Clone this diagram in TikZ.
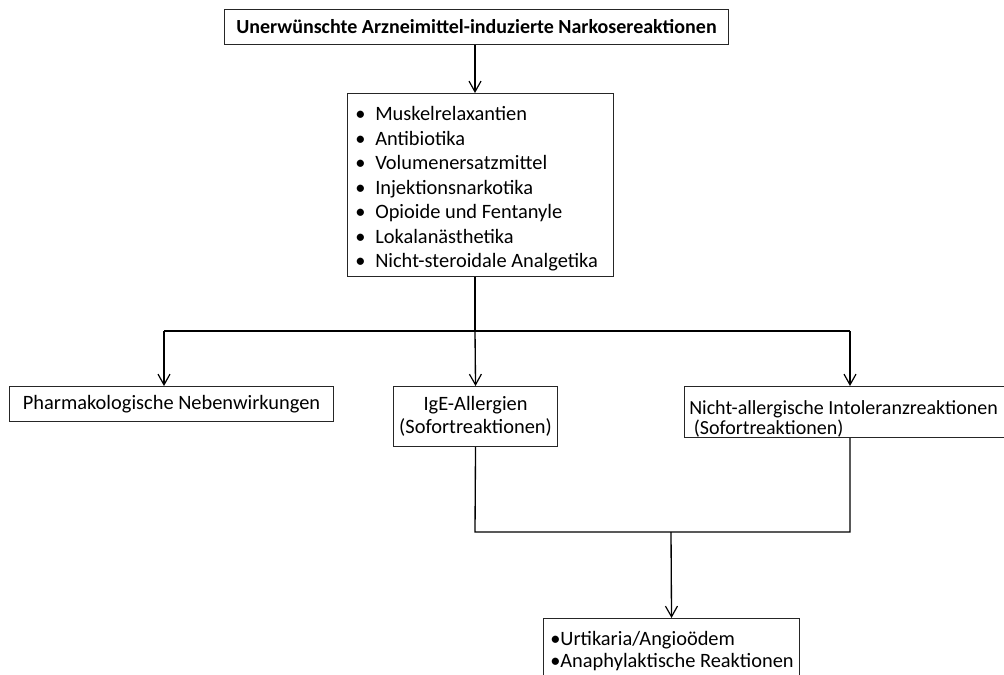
\documentclass[tikz,border=0pt]{standalone}
\usepackage{fontspec}
\setmainfont{Carlito}
\usetikzlibrary{arrows.meta}
\newcommand\bitem[1]{\makebox[15pt][l]{\textbullet}#1}
\begin{document}
\begin{tikzpicture}[x=0.75pt,y=-0.75pt,
  box/.style={draw=black!85,line width=0.8pt,inner ysep=0pt,anchor=north west,font=\fontsize{15.3}{18}\selectfont},
  txt/.style={inner sep=0pt,anchor=west,align=left,font=\fontsize{15.3}{18}\selectfont},
  conn/.style={line width=1pt},
  arr/.style={conn,-{Straight Barb[length=8pt,width=9pt,line width=0.9pt]}}]
\useasboundingbox (0,0) rectangle (1004,675);
\clip (0,0) rectangle (1004,675);
\fill[white] (0,0) rectangle (1004,675);
\node[box,minimum width=504*0.75pt,minimum height=35*0.75pt,inner xsep=0pt,font=\bfseries\fontsize{15}{18}\selectfont] (top) at (224,9) {Unerwünschte Arzneimittel-induzierte Narkosereaktionen};
\node[box,minimum width=266*0.75pt,minimum height=183*0.75pt] (box2) at (347,93) {};
\node[txt,font=\fontsize{15.3}{18.4}\selectfont] (box2text) at (355,189) {\bitem{Muskelrelaxantien}\\\bitem{Antibiotika}\\\bitem{Volumenersatzmittel}\\\bitem{Injektionsnarkotika}\\\bitem{Opioide und Fentanyle}\\\bitem{Lokalanästhetika}\\\bitem{Nicht-steroidale Analgetika}};
\node[box,minimum width=324*0.75pt,minimum height=35*0.75pt,inner xsep=0pt] (left) at (9,386) {Pharmakologische Nebenwirkungen};
\node[box,minimum width=164*0.75pt,minimum height=60*0.75pt,inner xsep=0pt,align=center,font=\fontsize{15.3}{17.25}\selectfont] (mid) at (393,386) {IgE-Allergien\\(Sofortreaktionen)};
\node[box,minimum width=336*0.75pt,minimum height=51*0.75pt] (right) at (684,386) {};
\node[txt,font=\fontsize{15}{15}\selectfont] (righttext) at (689,418.5) {Nicht-allergische Intoleranzreaktionen\\\hspace*{3.4pt}(Sofortreaktionen)};
\node[box,minimum width=256*0.75pt,minimum height=62*0.75pt] (bot) at (543,618) {};
\node[txt,font=\fontsize{15.3}{16.5}\selectfont] (bottext) at (550,651) {\textbullet Urtikaria/Angioödem\\\textbullet Anaphylaktische Reaktionen};
\coordinate (j1) at (475,331);
\coordinate (jl) at (164,331);
\coordinate (jr) at (850,331);
\coordinate (j2) at (475,532);
\coordinate (j3) at (850,532);
\coordinate (j4) at (671,532);
\draw[arr] (top.south -| j1) -- (j1 |- box2.north);
\draw[conn] (j1 |- box2.south) -- (j1);
\draw[conn] (jl) -- (jr);
\draw[arr] (jl) -- (jl |- left.north);
\draw[arr] (j1) -- (mid.north);
\draw[arr] (jr) -- (jr |- right.north);
\draw[conn] (mid.south) -- (j2) -- (j3) -- (jr |- right.south);
\draw[arr] (j4) -- (bot.north);
\end{tikzpicture}
\end{document}
